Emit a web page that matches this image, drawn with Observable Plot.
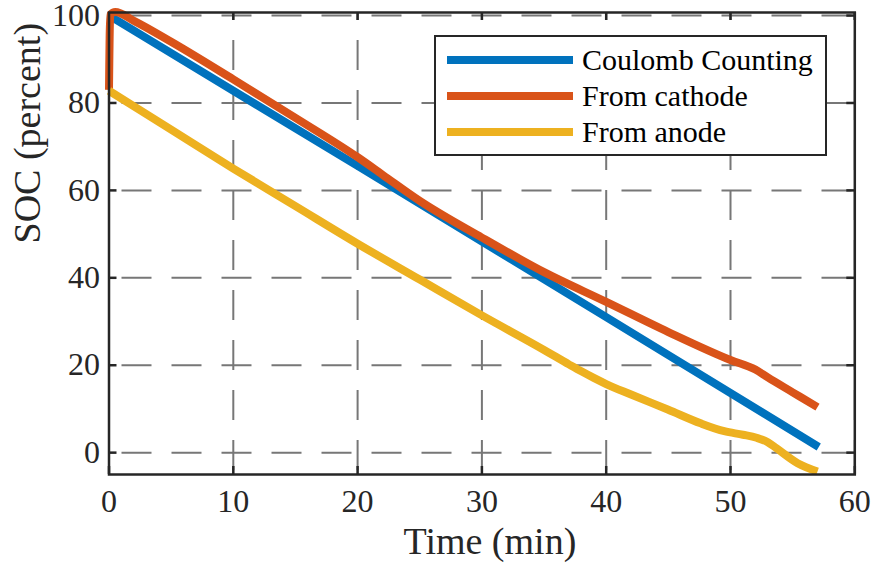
<!DOCTYPE html>
<html><head><meta charset="utf-8">
<script src="https://cdn.jsdelivr.net/npm/d3@7"></script>
<script src="https://cdn.jsdelivr.net/npm/@observablehq/plot@0.6"></script>
<style>
body{margin:0;background:#fff;}
#wrap{position:relative;width:875px;height:569px;}
#legend{position:absolute;left:0;top:0;}
</style></head><body><div id="wrap"></div>
<script>
const xTicks = [0, 10, 20, 30, 40, 50, 60];
const yTicks = [0, 20, 40, 60, 80, 100];
const seriesNames = ["Coulomb Counting", "From cathode", "From anode"];
const seriesColors = ["#0072BD", "#D95319", "#EDB120"];

const ccTime = [0, 20, 40, 57.1];
const ccSoc  = [100, 65.6, 31.0, 1.3];

const cathodeTime = [0, 0.1, 0.5, 2, 5, 10, 15, 20, 22, 25, 30, 35, 40, 45, 50, 52, 53, 55, 57];
const cathodeSoc  = [83.0, 100.2, 100.8, 98.8, 94.0, 85.4, 76.6, 67.6, 63.6, 57.6, 49.2, 41.3, 34.5, 27.6, 21.2, 19.0, 17.2, 13.8, 10.4];

const anodeTime = [0, 5, 10, 15, 20, 25, 30, 35, 37, 38, 39, 40, 42, 45, 47.6, 49.5, 51, 52.1, 53, 53.7, 55.4, 57];
const anodeSoc  = [82.8, 73.9, 65.0, 56.4, 47.8, 39.6, 31.4, 23.5, 20.2, 18.6, 17.1, 15.7, 13.3, 9.8, 6.7, 4.9, 4.1, 3.4, 2.4, 1.0, -2.4, -4.3];

const W = 875, H = 569, mL = 108.5, mR = 20.7, mT = 12, mB = 95;
const frameW = W - mL - mR, frameH = H - mT - mB;
const toRows = (ts, vs, s) => ts.map((t, i) => ({t, v: vs[i], s}));
const data = [
  ...toRows(ccTime, ccSoc, seriesNames[0]),
  ...toRows(cathodeTime, cathodeSoc, seriesNames[1]),
  ...toRows(anodeTime, anodeSoc, seriesNames[2])
];
const ink = "#262626";
const gridStyle = {stroke: "#777", strokeOpacity: 1, strokeWidth: 2, strokeDasharray: "30,20"};
const tickStyle = {stroke: ink, strokeWidth: 2.5};

const plot = Plot.plot({
  width: W, height: H,
  marginLeft: mL, marginRight: mR, marginTop: mT, marginBottom: mB,
  style: {fontFamily: "'Liberation Serif', 'Times New Roman', serif", background: "white", color: ink, overflow: "visible"},
  x: {domain: [0, 60]},
  y: {domain: [-5, 100.7]},
  color: {domain: seriesNames, range: seriesColors},
  marks: [
    Plot.gridX(xTicks, {...gridStyle, strokeDashoffset: 22}),
    Plot.gridY(yTicks, {...gridStyle, strokeDashoffset: 37}),
    Plot.axisX(xTicks, {tickSize: 0, tickPadding: 15, fontSize: 32, label: null}),
    Plot.axisY(yTicks, {tickSize: 0, tickPadding: 9, fontSize: 32, label: null}),
    Plot.tickX(xTicks, {x: d => d, insetTop: frameH - 8, ...tickStyle}),
    Plot.tickX(xTicks, {x: d => d, insetBottom: frameH - 8, ...tickStyle}),
    Plot.tickY(yTicks, {y: d => d, insetRight: frameW - 8, ...tickStyle}),
    Plot.tickY(yTicks, {y: d => d, insetLeft: frameW - 8, ...tickStyle}),
    Plot.line(data, {x: "t", y: "v", z: "s", stroke: "s", strokeWidth: 8, strokeLinecap: "butt", strokeLinejoin: "round", curve: "monotone-x"}),
    Plot.frame({stroke: ink, strokeWidth: 2.5}),
    Plot.text(["Time (min)"], {frameAnchor: "bottom", dy: 79, dx: 8, fontSize: 38, fill: ink}),
    Plot.text(["SOC (percent)"], {frameAnchor: "left", dx: -81, rotate: -90, fontSize: 38, fill: ink})
  ]
});
const wrap = document.getElementById("wrap");
wrap.appendChild(plot);

// Legend overlay
const ns = "http://www.w3.org/2000/svg";
const lg = document.createElementNS(ns, "svg");
lg.setAttribute("id", "legend");
lg.setAttribute("width", W);
lg.setAttribute("height", H);
lg.style.pointerEvents = "none";
const box = document.createElementNS(ns, "rect");
box.setAttribute("x", 435); box.setAttribute("y", 36);
box.setAttribute("width", 391); box.setAttribute("height", 119);
box.setAttribute("fill", "white"); box.setAttribute("stroke", ink); box.setAttribute("stroke-width", 2);
lg.appendChild(box);
seriesNames.forEach((name, i) => {
  const cy = 60 + i * 36;
  const ln = document.createElementNS(ns, "line");
  ln.setAttribute("x1", 447); ln.setAttribute("x2", 573);
  ln.setAttribute("y1", cy); ln.setAttribute("y2", cy);
  ln.setAttribute("stroke", seriesColors[i]); ln.setAttribute("stroke-width", 8);
  lg.appendChild(ln);
  const tx = document.createElementNS(ns, "text");
  tx.setAttribute("x", 582); tx.setAttribute("y", cy);
  tx.setAttribute("dy", "0.34em");
  tx.setAttribute("font-family", "'Liberation Serif', 'Times New Roman', serif");
  tx.setAttribute("font-size", 30);
  tx.setAttribute("fill", "#000");
  tx.textContent = name;
  lg.appendChild(tx);
});
wrap.appendChild(lg);
</script>
</body></html>
